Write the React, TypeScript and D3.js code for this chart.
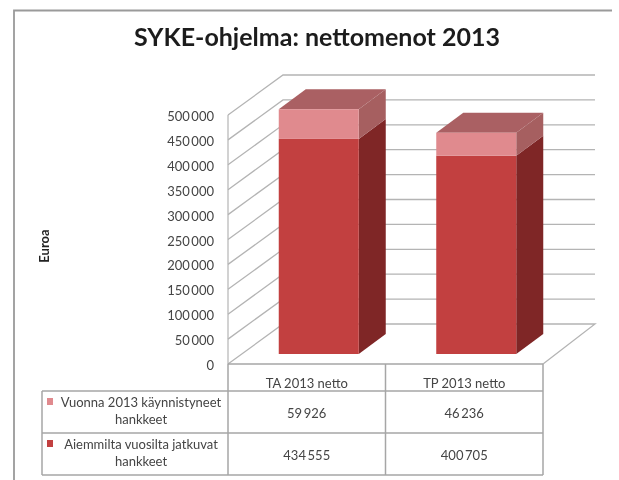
import React from "react";
import * as d3 from "d3";

const categories = ["TA 2013 netto", "TP 2013 netto"];
const legendNew = ["Vuonna 2013 käynnistyneet", "hankkeet"];
const legendOld = ["Aiemmilta vuosilta jatkuvat", "hankkeet"];
const newProjects = [59926, 46236];
const oldProjects = [434555, 400705];
const tickValues = [0, 50000, 100000, 150000, 200000, 250000, 300000, 350000, 400000, 450000, 500000];

const W = 619, H = 480;
const FONT = "Lato, 'Open Sans', sans-serif";
const wallFront = { x0: 228, x1: 543, y0: 364, y1: 115 };
const depthX = 55, depthY = -40, barDepthX = 27, barDepthY = -20;
const barBase = 354;

const fmt = (v: number) => d3.format(",")(v).replace(/,/g, "\u2009");

function Box({ x, w, y0, y1, front, side, top }: any) {
  const dx = barDepthX, dy = barDepthY;
  return (
    <g>
      <path d={`M${x + w},${y0}L${x + w + dx},${y0 + dy}L${x + w + dx},${y1 + dy}L${x + w},${y1}Z`} fill={side} />
      {top && <path d={`M${x},${y1}L${x + dx},${y1 + dy}L${x + w + dx},${y1 + dy}L${x + w},${y1}Z`} fill={top} />}
      <rect x={x} y={y1} width={w} height={y0 - y1} fill={front} />
    </g>
  );
}

export default function App() {
  const yFront = d3.scaleLinear().domain([0, 500000]).range([wallFront.y0, wallFront.y1]);
  const yBar = d3.scaleLinear().domain([0, 500000]).range([barBase, barBase - 247.5]);
  const xBand = d3.scaleBand<string>().domain(categories).range([wallFront.x0, wallFront.x1]);
  const barW = 80;
  const grid = "#b4b4b4";
  const tbl = "#a6a6a6";
  const rows = [wallFront.y0, 391, 433, 475];
  const tblLeft = 42;
  const cols = [wallFront.x0, xBand(categories[1])!, wallFront.x1];
  const barX = (c: string) => xBand(c)! + xBand.bandwidth() / 2 - barW / 2 + 12;

  return (
    <svg width={W} height={H} viewBox={`0 0 ${W} ${H}`} style={{ position: "fixed", left: 0, top: 0, background: "#fff" }} fontFamily={FONT}>
      <defs>
        <filter id="soft" x="0" y="0" width="100%" height="100%">
          <feGaussianBlur stdDeviation="0.6" />
        </filter>
      </defs>
      <g filter="url(#soft)">
        <rect x={0} y={0} width={W} height={H} fill="#fff" />
        <path d={`M14,${H}V10.5H612`} fill="none" stroke="#9a9a9a" strokeWidth={1.8} />
        <text x={317} y={46} textAnchor="middle" fontSize={25} fontWeight={700} fill="#1c1c1c">SYKE-ohjelma: nettomenot 2013</text>
        <text transform="translate(49,246) rotate(-90)" textAnchor="middle" fontSize={13} fontWeight={700} fill="#222">Euroa</text>

        {tickValues.map((t) => {
          const y = yFront(t);
          return (
            <g key={t}>
              {t > 0 && (
                <path d={`M${wallFront.x0},${y}L${wallFront.x0 + depthX},${y + depthY}H595`} fill="none" stroke={grid} strokeWidth={1.3} />
              )}
              <text x={214} y={y + 6} textAnchor="end" fontSize={13} fill="#444">{fmt(t)}</text>
            </g>
          );
        })}
        <path d={`M${wallFront.x0},${wallFront.y1}V${wallFront.y0}`} stroke={grid} strokeWidth={1.2} fill="none" />
        <path d={`M${wallFront.x0},${wallFront.y0}L${wallFront.x0 + depthX},${wallFront.y0 + depthY}H595L${wallFront.x1},${wallFront.y0}`} fill="none" stroke={grid} strokeWidth={1.3} />

        {categories.map((c, i) => {
          const x = barX(c);
          const yOld = yBar(oldProjects[i]);
          const yAll = yBar(oldProjects[i] + newProjects[i]);
          return (
            <g key={c}>
              <Box x={x} w={barW} y0={barBase} y1={yOld} front="#c23f3f" side="#7f2526" />
              <Box x={x} w={barW} y0={yOld} y1={yAll} front="#e08a8e" side="#a65f61" top="#aa6163" />
            </g>
          );
        })}

        <g stroke={tbl} strokeWidth={1.5} fill="none">
          <path d={`M${cols[0]},${rows[0]}H${cols[2]}`} />
          <path d={`M${tblLeft},${rows[1]}H${cols[2]}`} />
          <path d={`M${tblLeft},${rows[2]}H${cols[2]}`} />
          <path d={`M${tblLeft},${rows[3]}H${cols[2]}`} />
          <path d={`M${tblLeft},${rows[1]}V${rows[3]}`} />
          {cols.map((x) => <path key={x} d={`M${x},${rows[0]}V${rows[3]}`} />)}
        </g>

        {categories.map((c, i) => {
          const cx = (cols[i] + cols[i + 1]) / 2;
          return (
            <g key={c} textAnchor="middle" fontSize={13} fill="#444">
              <text x={cx} y={388}>{c}</text>
              <text x={cx} y={418}>{fmt(newProjects[i])}</text>
              <text x={cx} y={460}>{fmt(oldProjects[i])}</text>
            </g>
          );
        })}

        <rect x={47} y={398} width={6} height={7} fill="#e08a8e" />
        <rect x={47} y={440} width={6} height={7} fill="#c23f3f" />
        <g fontSize={13} fill="#444" textAnchor="middle">
          <text x={141} y={407}>{legendNew[0]}</text>
          <text x={141} y={424}>{legendNew[1]}</text>
          <text x={141} y={449}>{legendOld[0]}</text>
          <text x={141} y={466}>{legendOld[1]}</text>
        </g>
      </g>
    </svg>
  );
}
